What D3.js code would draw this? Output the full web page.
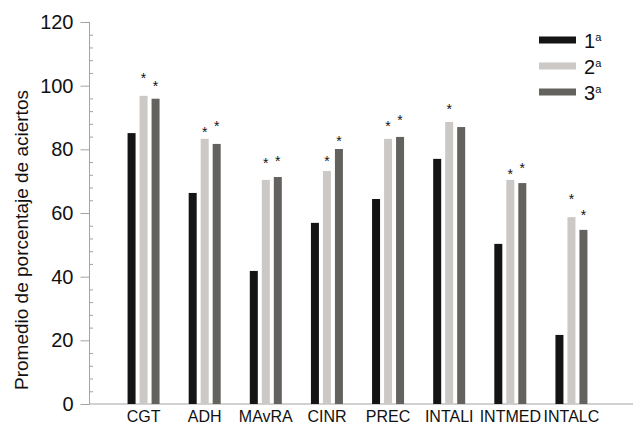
<!DOCTYPE html>
<html>
<head>
<meta charset="utf-8">
<script src="https://cdn.jsdelivr.net/npm/d3@7"></script>
<style>
  html, body { margin: 0; padding: 0; background: #fff; }
  svg { display: block; font-family: "Liberation Sans", Arial, Helvetica, sans-serif; }
</style>
</head>
<body>
<svg id="chart" width="633" height="425"></svg>
<script>
// Test categories along the x axis
const categories = ["CGT", "ADH", "MAvRA", "CINR", "PREC", "INTALI", "INTMED", "INTALC"];

// Series (school year) names and mean percentage of correct answers
const seriesNames = ["1", "2", "3"];
const values1 = [85.1, 66.3, 41.8, 56.9, 64.4, 77.0, 50.3, 21.7];
const values2 = [96.8, 83.3, 70.4, 73.2, 83.3, 88.6, 70.4, 58.7];
const values3 = [95.9, 81.7, 71.3, 80.1, 83.9, 87.0, 69.4, 54.7];

// Height (in % units) at which the significance asterisk sits; null = none
const sig1 = [null, null, null, null, null, null, null, null];
const sig2 = [103.5, 86.5, 76.6, 77.2, 88.4, 93.7, 73.3, 65.4];
const sig3 = [100.9, 88.4, 77.2, 83.5, 90.3, null, 75.2, 60.4];

const yTicks = [0, 20, 40, 60, 80, 100, 120];
const yTitle = "Promedio de porcentaje de aciertos";

const colors = ["#141414", "#cbc8c5", "#64625e"];
const seriesValues = [values1, values2, values3];
const seriesSig = [sig1, sig2, sig3];

const svg = d3.select("#chart");

const axisX = 89.5;
const baseY = 404;

const y = d3.scaleLinear().domain([0, 120]).range([baseY, 22]);
const x0 = d3.scaleBand().domain(categories).range([113, 602]);
const x1 = d3.scaleBand().domain(seriesNames).range([-18, 18])
  .paddingInner(1 / 3).paddingOuter(1 / 6);

const axisColor = "#a3a3a3";

// Y axis: major ticks pointing left, minor ticks every 4 units pointing right
const yAxis = d3.axisLeft(y).tickValues(yTicks).tickSize(9).tickPadding(7);
const gy = svg.append("g").attr("transform", `translate(${axisX},0)`).call(yAxis);
gy.select(".domain").remove();
gy.selectAll(".tick line").attr("stroke", axisColor);
gy.selectAll(".tick text")
  .attr("fill", "#111")
  .style("font-size", "20px");

const minorVals = d3.range(0, 121, 4).filter(v => v % 20 !== 0);
const yMinor = d3.axisRight(y).tickValues(minorVals).tickSize(3.5).tickFormat("");
const gm = svg.append("g").attr("transform", `translate(${axisX},0)`).call(yMinor);
gm.select(".domain").remove();
gm.selectAll(".tick line").attr("stroke", axisColor);

svg.append("line")
  .attr("x1", axisX).attr("x2", axisX)
  .attr("y1", y(120)).attr("y2", baseY)
  .attr("stroke", axisColor);

// X axis baseline and category labels
svg.append("line")
  .attr("x1", axisX).attr("x2", 633)
  .attr("y1", baseY).attr("y2", baseY)
  .attr("stroke", axisColor);

svg.append("g").selectAll("text")
  .data(categories)
  .join("text")
  .attr("x", d => x0(d) + x0.bandwidth() / 2)
  .attr("y", 421.5)
  .attr("text-anchor", "middle")
  .attr("fill", "#111")
  .style("font-size", "16px")
  .text(d => d);

// Bars
const barData = [];
categories.forEach((c, i) => {
  seriesNames.forEach((s, k) => {
    barData.push({ cat: c, ser: s, k, value: seriesValues[k][i], sig: seriesSig[k][i] });
  });
});

const bx = d => x0(d.cat) + x0.bandwidth() / 2 + x1(d.ser);

svg.append("g").selectAll("rect")
  .data(barData)
  .join("rect")
  .attr("x", bx)
  .attr("width", x1.bandwidth())
  .attr("y", d => y(d.value))
  .attr("height", d => baseY - y(d.value))
  .attr("fill", d => colors[d.k]);

// Significance asterisks
svg.append("g").selectAll("text")
  .data(barData.filter(d => d.sig != null))
  .join("text")
  .attr("x", d => bx(d) + x1.bandwidth() / 2)
  .attr("y", d => y(d.sig) + 8)
  .attr("text-anchor", "middle")
  .attr("fill", "#111")
  .style("font-size", "14px")
  .text("*");

// Y axis title
svg.append("text")
  .attr("transform", "translate(28,240) rotate(-90)")
  .attr("text-anchor", "middle")
  .attr("fill", "#111")
  .style("font-size", "19px")
  .text(yTitle);

// Legend
const legend = svg.append("g");
seriesNames.forEach((s, k) => {
  const cy = 40 + k * 26;
  legend.append("rect")
    .attr("x", 539).attr("y", cy - 3.5)
    .attr("width", 37).attr("height", 7)
    .attr("fill", colors[k]);
  const t = legend.append("text")
    .attr("x", 584).attr("y", cy + 8)
    .attr("fill", "#111")
    .style("font-size", "20px");
  t.append("tspan").text(s);
  t.append("tspan").attr("dy", -7).style("font-size", "11px").text("a");
});
</script>
</body>
</html>
